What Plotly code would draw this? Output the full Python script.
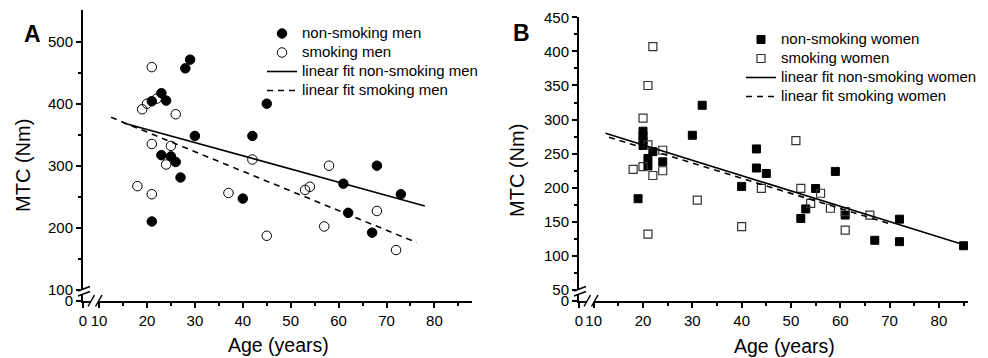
import numpy as np
import plotly.graph_objects as go

# ---------------- data ----------------
# Panel A: men
men_nonsmoking_age = [29, 28, 23, 24, 21, 30, 23, 25, 26, 27, 21, 40, 45, 42, 68, 61, 73, 62, 67]
men_nonsmoking_mtc = [471, 457, 417, 405, 404, 348, 317, 315, 306, 281, 210, 247, 400, 348, 300, 271, 254, 224, 192]
men_smoking_age = [21, 22, 20, 19, 26, 21, 25, 24, 18, 21, 37, 42, 58, 53, 54, 68, 57, 45, 72]
men_smoking_mtc = [459, 408, 400, 391, 383, 335, 332, 302, 267, 254, 256, 310, 300, 261, 266, 227, 202, 187, 164]
# linear fits: [slope, intercept, x_start, x_end]
fit_men_nonsmoking = [-2.13, 401.2, 15.1, 78.0]
fit_men_smoking = [-3.166, 417.6, 12.5, 76.3]

# Panel B: women
women_nonsmoking_age = [32, 30, 20, 20, 20, 20, 22, 21, 21, 24, 19, 40, 43, 43, 45, 59, 55, 53, 52, 61, 72, 67, 72, 85]
women_nonsmoking_mtc = [321, 277, 283, 276, 269, 262, 253, 243, 232, 238, 184, 202, 257, 229, 221, 224, 199, 169, 155, 160, 154, 123, 121, 115]
women_smoking_age = [22, 21, 20, 21, 24, 18, 20, 22, 24, 31, 21, 40, 51, 44, 52, 56, 54, 58, 61, 61, 66]
women_smoking_mtc = [407, 350, 302, 263, 255, 227, 231, 218, 225, 182, 132, 143, 269, 199, 199, 192, 177, 170, 165, 138, 160]
fit_women_nonsmoking = [-2.251, 307.9, 12.4, 85.7]
fit_women_smoking = [-2.228, 303.2, 13.1, 70.1]

# series names
names_a = ["non-smoking men", "smoking men", "linear fit non-smoking men", "linear fit smoking men"]
names_b = ["non-smoking women", "smoking women", "linear fit non-smoking women", "linear fit smoking women"]

# axis ticks
a_x_major = [10, 20, 30, 40, 50, 60, 70, 80]
a_x_minor = [15, 25, 35, 45, 55, 65, 75, 85]
a_y_major = [100, 200, 300, 400, 500]
a_y_minor = [150, 250, 350, 450]
b_x_major = [10, 20, 30, 40, 50, 60, 70, 80]
b_x_minor = [15, 25, 35, 45, 55, 65, 75, 85]
b_y_major = [50, 100, 150, 200, 250, 300, 350, 400, 450]
b_y_minor = [75, 125, 175, 225, 275, 325, 375, 425]

# axis-break positions (value where the "0" label is drawn on the compressed part)
a_x_zero, a_y_zero = 6.64, 82.3
b_x_zero, b_y_zero = 7.02, 34.45

W, H = 988, 358
FONT = "Liberation Sans, Arial, Helvetica, sans-serif"


def PX(x):
    return x / W


def PY(y):
    return 1 - y / H


def fit_line(f):
    xs = np.array([f[2], f[3]])
    return xs, f[1] + f[0] * xs


def lname(s):
    # legend text at 15px while legend rows stay compact
    return "<span style='font-size:15px'>" + s + "</span>"


fig = go.Figure()

# ---- Panel A traces
fig.add_trace(go.Scatter(x=men_nonsmoking_age, y=men_nonsmoking_mtc, mode="markers",
                         name=lname(names_a[0]), legend="legend",
                         marker=dict(symbol="circle", size=9.5, color="black",
                                     line=dict(color="black", width=1)),
                         xaxis="x", yaxis="y"))
fig.add_trace(go.Scatter(x=men_smoking_age, y=men_smoking_mtc, mode="markers",
                         name=lname(names_a[1]), legend="legend",
                         marker=dict(symbol="circle-open", size=9.5, color="black",
                                     line=dict(color="black", width=1)),
                         xaxis="x", yaxis="y"))
xs, ys = fit_line(fit_men_nonsmoking)
fig.add_trace(go.Scatter(x=xs, y=ys, mode="lines", name=lname(names_a[2]),
                         legend="legend", line=dict(color="black", width=1.6),
                         xaxis="x", yaxis="y"))
xs, ys = fit_line(fit_men_smoking)
fig.add_trace(go.Scatter(x=xs, y=ys, mode="lines", name=lname(names_a[3]),
                         legend="legend", line=dict(color="black", width=1.6, dash="6px,5px"),
                         xaxis="x", yaxis="y"))

# ---- Panel B traces
fig.add_trace(go.Scatter(x=women_nonsmoking_age, y=women_nonsmoking_mtc, mode="markers",
                         name=lname(names_b[0]), legend="legend2",
                         marker=dict(symbol="square", size=8, color="black",
                                     line=dict(color="black", width=1)),
                         xaxis="x2", yaxis="y2"))
fig.add_trace(go.Scatter(x=women_smoking_age, y=women_smoking_mtc, mode="markers",
                         name=lname(names_b[1]), legend="legend2",
                         marker=dict(symbol="square-open", size=8, color="#333333",
                                     line=dict(color="#333333", width=1.2)),
                         xaxis="x2", yaxis="y2"))
xs, ys = fit_line(fit_women_nonsmoking)
fig.add_trace(go.Scatter(x=xs, y=ys, mode="lines", name=lname(names_b[2]),
                         legend="legend2", line=dict(color="black", width=1.6),
                         xaxis="x2", yaxis="y2"))
xs, ys = fit_line(fit_women_smoking)
fig.add_trace(go.Scatter(x=xs, y=ys, mode="lines", name=lname(names_b[3]),
                         legend="legend2", line=dict(color="black", width=1.6, dash="6px,5px"),
                         xaxis="x2", yaxis="y2"))


def axis(domain, rng, major, minor, zero, anchor):
    return dict(domain=domain, range=rng, anchor=anchor,
                tickmode="array", tickvals=[zero] + major,
                ticktext=["0"] + [str(v) for v in major],
                ticks="outside", ticklen=5, tickwidth=1.5, tickcolor="black",
                minor=dict(tickmode="array", tickvals=minor, ticks="outside",
                           ticklen=3, tickwidth=1.5, tickcolor="black"),
                showline=True, linewidth=2, linecolor="black",
                showgrid=False, zeroline=False, automargin=False,
                tickfont=dict(family=FONT, size=15, color="black"))


layout = dict(
    width=W, height=H,
    margin=dict(l=0, r=0, t=0, b=0),
    paper_bgcolor="white", plot_bgcolor="white",
    font=dict(family=FONT, size=15, color="black"),
    xaxis=axis([PX(83), PX(472)], [a_x_zero, 87.85], a_x_major, a_x_minor, a_x_zero, "y"),
    yaxis=axis([PY(300.7), PY(10)], [a_y_zero, 551.1], a_y_major, a_y_minor, a_y_zero, "x"),
    xaxis2=axis([PX(579), PX(968)], [b_x_zero, 85.9], b_x_major, b_x_minor, b_x_zero, "y2"),
    yaxis2=axis([PY(300.7), PY(17)], [b_y_zero, 450.4], b_y_major, b_y_minor, b_y_zero, "x2"),
    legend=dict(x=PX(262), y=PY(19), xanchor="left", yanchor="top",
                bgcolor="rgba(0,0,0,0)", font=dict(family=FONT, size=11),
                tracegroupgap=0),
    legend2=dict(x=PX(741), y=PY(25), xanchor="left", yanchor="top",
                 bgcolor="rgba(0,0,0,0)", font=dict(family=FONT, size=11),
                 tracegroupgap=0),
    showlegend=True,
)
fig.update_layout(**layout)

# ---- annotations: panel letters and axis titles
ann = []
ann.append(dict(text="<b>A</b>", x=PX(32), y=PY(34), font=dict(size=23)))
ann.append(dict(text="<b>B</b>", x=PX(521), y=PY(33), font=dict(size=23)))
ann.append(dict(text="MTC (Nm)", x=PX(23), y=PY(166), textangle=-90, font=dict(size=20)))
ann.append(dict(text="MTC (Nm)", x=PX(517), y=PY(171), textangle=-90, font=dict(size=20)))
ann.append(dict(text="Age (years)", x=PX(278), y=PY(345), font=dict(size=19.5)))
ann.append(dict(text="Age (years)", x=PX(784), y=PY(346), font=dict(size=19.5)))
for a in ann:
    a.update(xref="paper", yref="paper", showarrow=False, xanchor="center", yanchor="middle")
    a["font"].update(family=FONT, color="black")
fig.update_layout(annotations=ann)

# ---- axis-break marks
shapes = []


def seg(x0, y0, x1, y1, w=1.5, color="black"):
    shapes.append(dict(type="line", xref="paper", yref="paper",
                       x0=PX(x0), y0=PY(y0), x1=PX(x1), y1=PY(y1),
                       line=dict(color=color, width=w), layer="above"))


def gap(x0, y0, x1, y1):
    shapes.append(dict(type="rect", xref="paper", yref="paper",
                       x0=PX(x0), y0=PY(y0), x1=PX(x1), y1=PY(y1),
                       line=dict(width=0), fillcolor="white", layer="above"))


for ax0, ybreak, xbreak in [(83, 292, 91), (579, 292, 587)]:
    # y-axis break
    gap(ax0 - 2, ybreak - 2, ax0 + 2, ybreak + 3)
    seg(ax0 - 5, ybreak - 1, ax0 + 7, ybreak - 5.5)
    seg(ax0 - 5, ybreak + 4, ax0 + 7, ybreak - 0.5)
    # x-axis break
    gap(xbreak, 298.5, xbreak + 7, 303)
    seg(xbreak - 3, 306.5, xbreak + 3.5, 295)
    seg(xbreak + 4.5, 306.5, xbreak + 11, 295)

fig.update_layout(shapes=shapes)

fig.write_html("out.html")
